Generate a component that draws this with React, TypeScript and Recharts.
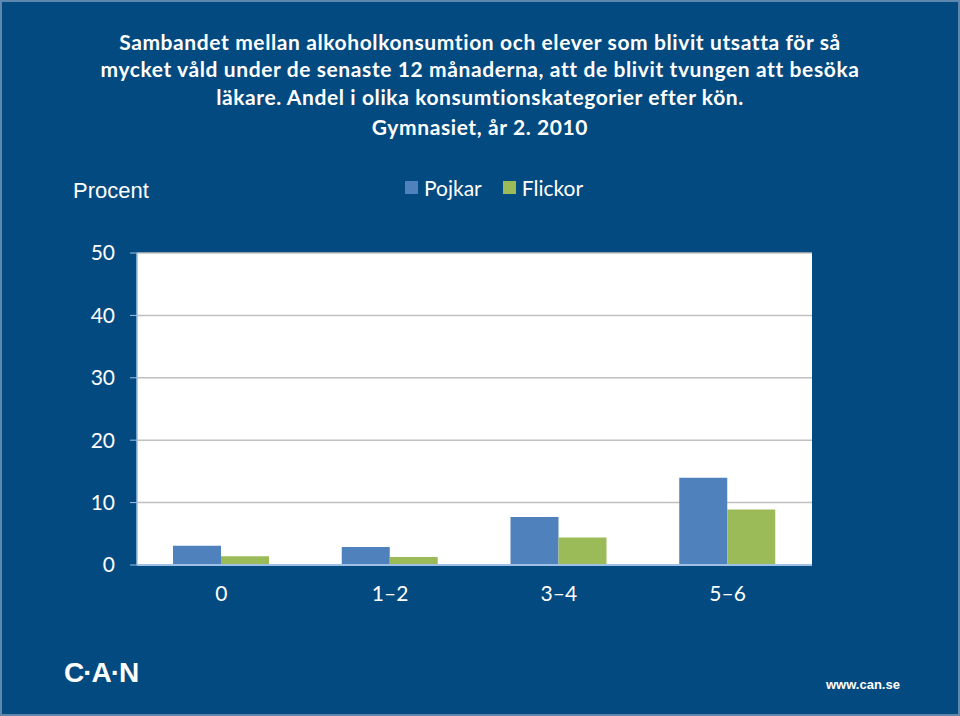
import React from 'react';
import {
  BarChart,
  Bar,
  XAxis,
  YAxis,
  CartesianGrid,
  Legend,
} from 'recharts';

// --- DATA ---
const categories = ['0', '1\u20132', '3\u20134', '5\u20136'];
const pojkar = [3.1, 2.9, 7.7, 14.0];
const flickor = [1.4, 1.3, 4.4, 8.9];
const yTicks = [0, 10, 20, 30, 40, 50];
const titleLines = [
  'Sambandet mellan alkoholkonsumtion och elever som blivit utsatta för så',
  'mycket våld under de senaste 12 månaderna, att de blivit tvungen att besöka',
  'läkare. Andel i olika konsumtionskategorier efter kön.',
  'Gymnasiet, år 2. 2010',
];

// --- STYLES ---
const COLORS = {
  bg: '#034a80',
  pojkar: '#4f81bd',
  flickor: '#9bbb59',
  axis: '#9ec0e4',
  grid: '#c0c0c0',
  text: '#ffffff',
};
const BODY_FONT = 'Lato, "Open Sans", sans-serif';
const ARIAL = '"Liberation Sans", Arial, sans-serif';

const data = categories.map((name, i) => ({
  name,
  idx: i + 0.5,
  Pojkar: pojkar[i],
  Flickor: flickor[i],
}));

const LegendContent = () => (
  <div style={{ display: 'flex', fontFamily: BODY_FONT, fontSize: 21, color: COLORS.text }}>
    {[
      { label: 'Pojkar', color: COLORS.pojkar },
      { label: 'Flickor', color: COLORS.flickor },
    ].map((item) => (
      <div key={item.label} style={{ display: 'flex', alignItems: 'center', marginRight: 21 }}>
        <span style={{ width: 13, height: 13, background: item.color, marginRight: 6, display: 'inline-block' }} />
        <span>{item.label}</span>
      </div>
    ))}
  </div>
);

const titleTops = [26, 53, 81, 111];

export default function App() {
  return (
    <div
      style={{
        position: 'fixed',
        left: 0,
        top: 0,
        width: 960,
        height: 716,
        background: COLORS.bg,
        boxSizing: 'border-box',
        border: '2px solid #5f86ad',
        overflow: 'hidden',
      }}
    >
      {titleLines.map((line, i) => (
        <div
          key={i}
          style={{
            position: 'absolute',
            left: -2,
            top: titleTops[i],
            width: 960,
            textAlign: 'center',
            fontFamily: BODY_FONT,
            fontWeight: 700,
            fontSize: 21,
            letterSpacing: 0.6,
            lineHeight: '28px',
            color: COLORS.text,
            whiteSpace: 'nowrap',
          }}
        >
          {line}
        </div>
      ))}

      <div
        style={{
          position: 'absolute',
          left: 71,
          top: 176,
          fontFamily: ARIAL,
          fontSize: 22,
          color: COLORS.text,
        }}
      >
        Procent
      </div>

      <div style={{ position: 'absolute', left: -2, top: -2 }}>
        <BarChart
          width={960}
          height={716}
          data={data}
          margin={{ top: 253, right: 148, left: 0, bottom: 111 }}
          barCategoryGap={36}
          barGap={0}
        >
          <CartesianGrid
            horizontal
            vertical={false}
            fill="#ffffff"
            stroke={COLORS.grid}
            strokeWidth={1.5}
          />
          <XAxis
            xAxisId="bounds"
            type="number"
            dataKey="idx"
            domain={[0, 4]}
            ticks={[0, 1, 2, 3, 4]}
            tick={false}
            axisLine={false}
            tickLine={{ stroke: COLORS.axis }}
            tickSize={7}
            height={0}
          />
          <XAxis
            dataKey="name"
            axisLine={{ stroke: COLORS.axis, strokeWidth: 2 }}
            tickLine={false}
            tickMargin={15}
            height={40}
            tick={{ fill: COLORS.text, fontSize: 21, fontFamily: BODY_FONT }}
          />
          <YAxis
            domain={[0, 50]}
            ticks={yTicks}
            width={137}
            axisLine={{ stroke: COLORS.axis, strokeWidth: 1.5 }}
            tickLine={{ stroke: COLORS.axis }}
            tickSize={7}
            tickMargin={15}
            tick={{ fill: COLORS.text, fontSize: 21, fontFamily: BODY_FONT }}
          />
          <Legend
            verticalAlign="middle"
            content={<LegendContent />}
            wrapperStyle={{ top: 175, left: 405, width: 'auto' }}
          />
          <Bar dataKey="Pojkar" fill={COLORS.pojkar} isAnimationActive={false} />
          <Bar dataKey="Flickor" fill={COLORS.flickor} isAnimationActive={false} />
        </BarChart>
      </div>

      <div
        style={{
          position: 'absolute',
          left: 62,
          top: 655,
          fontFamily: ARIAL,
          fontWeight: 700,
          fontSize: 28,
          letterSpacing: -1,
          color: COLORS.text,
        }}
      >
        C·A·N
      </div>
      <div
        style={{
          position: 'absolute',
          left: 824,
          top: 675,
          fontFamily: ARIAL,
          fontWeight: 700,
          fontSize: 13,
          color: COLORS.text,
        }}
      >
        www.can.se
      </div>
    </div>
  );
}
